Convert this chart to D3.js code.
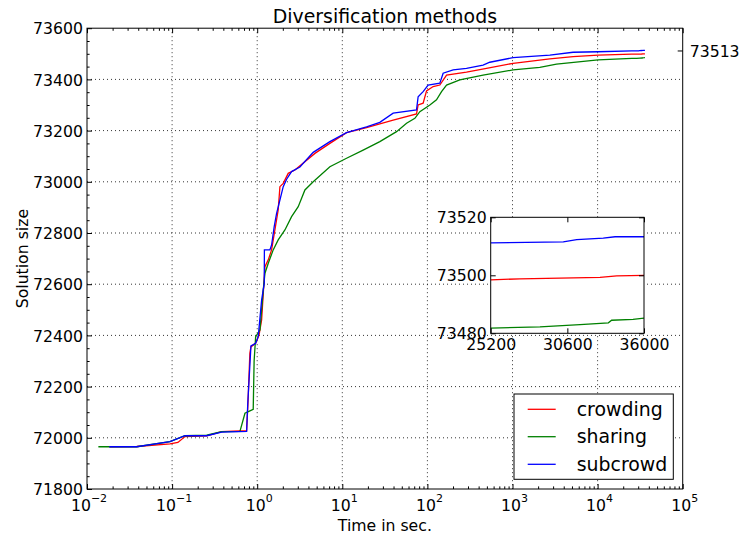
<!DOCTYPE html>
<html><head><meta charset="utf-8">
<script src="https://cdn.jsdelivr.net/npm/d3@7"></script>
<style>body{margin:0;background:#fff}svg{display:block}text{font-family:"DejaVu Sans",sans-serif;fill:#000}</style>
</head><body><svg id="c" width="741" height="541"></svg>
<script>
const title = "Diversification methods";
const xLabel = "Time in sec.";
const yLabel = "Solution size";
const seriesNames = ["crowding", "sharing", "subcrowd"];
const seriesColors = ["#ff0000", "#008000", "#0000ff"];
const xDecades = [-2, -1, 0, 1, 2, 3, 4, 5];
const yTicks = [71800, 72000, 72200, 72400, 72600, 72800, 73000, 73200, 73400, 73600];
const rightTick = [73513];
const insetXTicks = [25200, 30600, 36000];
const insetYTicks = [73480, 73500, 73520];

const crowdingT = [0.0183,0.0384,0.0944,0.117,0.1417,0.255,0.382,0.62,0.751,0.78,0.82,0.844,0.959,1.05,1.127,1.233,1.349,1.476,1.614,1.765,1.849,2.022,2.314,2.773,4.765,7.145,11.22,19.27,39.6,74.5,77.8,89.1,97.7,116.8,140,167.9,288,495,1016,2744,5152,10140,25200,27260,32900,34080,36000];
const crowdingV = [71965,71966,71976,71982,72005,72008,72024,72027,72027,72140,72330,72355,72370,72400,72460,72668,72695,72734,72812,72890,72981,72994,73033,73046,73111,73150,73192,73212,73241,73265,73300,73307,73355,73372,73378,73417,73428,73443,73463,73480,73489,73495,73498.4,73498.8,73499.3,73499.8,73500];

const sharingT = [0.0136,0.0384,0.0944,0.1417,0.255,0.382,0.627,0.718,0.82,0.898,0.92,0.959,1.077,1.178,1.233,1.349,1.542,1.765,2.117,2.535,3.034,3.637,4.552,7.145,11.22,17.58,27.6,43.4,56.9,71.2,81.5,106.9,127.9,146.6,167.9,240.3,451,1016,2093,3289,10140,25200,28670,31490,33490,33720,35230,36000];
const sharingV = [71965,71965,71985,72008,72010,72024,72025,72096,72105,72111,72300,72395,72421,72577,72643,72682,72734,72773,72812,72864,72903,72968,73000,73059,73092,73124,73157,73196,73229,73248,73274,73300,73320,73352,73378,73398,73417,73437,73447,73460,73476,73481.8,73482.2,73483.0,73483.6,73484.5,73484.8,73485.2];

const subcrowdT = [0.0183,0.0384,0.0944,0.1417,0.255,0.382,0.751,0.775,0.844,0.959,1.028,1.127,1.21,1.215,1.41,1.476,1.584,1.69,1.849,2.022,2.217,2.535,3.176,4.55,7.145,11.22,19.27,27.6,39.6,74.5,77.8,89.1,102,140,153.1,200.7,288,451,541,1016,2744,5152,10140,25200,30315,31260,33130,33960,36000];
const subcrowdV = [71965,71965,71985,72008,72008,72022,72025,72135,72359,72369,72395,72538,72603,72734,72734,72753,72825,72877,72929,72981,73010,73040,73058,73115,73157,73192,73215,73232,73268,73281,73332,73352,73378,73385,73424,73437,73443,73456,73467,73485,73495,73506,73508,73511.2,73511.5,73512.3,73512.8,73513.3,73513.3];

const allT = [crowdingT, sharingT, subcrowdT];
const allV = [crowdingV, sharingV, subcrowdV];
const series = seriesNames.map((n,i)=>({name:n,color:seriesColors[i],pts:allT[i].map((t,j)=>[t,allV[i][j]])}));

const svg = d3.select("#c");
const L=87, R=682.7, T=28.2, B=489;
const x = d3.scaleLog().domain([1e-2,1e5]).range([L,R]);
const y = d3.scaleLinear().domain([71800,73600]).range([B,T]);
const FS = 15.7, FL = 18.9, LW = 1.3;

// grid
const g = svg.append("g");
g.selectAll(".gx").data(xDecades.slice(1,-1)).enter().append("line")
  .attr("x1",d=>x(Math.pow(10,d))).attr("x2",d=>x(Math.pow(10,d))).attr("y1",T).attr("y2",B)
  .attr("stroke","#000").attr("stroke-width",0.8).attr("stroke-dasharray","1,3");
g.selectAll(".gy").data(yTicks.slice(1,-1)).enter().append("line")
  .attr("x1",L).attr("x2",R).attr("y1",d=>y(d)).attr("y2",d=>y(d))
  .attr("stroke","#000").attr("stroke-width",0.8).attr("stroke-dasharray","1,3");

// lines
svg.append("clipPath").attr("id","clipM").append("rect").attr("x",L).attr("y",T).attr("width",R-L).attr("height",B-T);
const line = d3.line().x(d=>x(d[0])).y(d=>y(d[1]));
svg.append("g").attr("clip-path","url(#clipM)").selectAll("path").data(series).enter().append("path")
  .attr("d",d=>line(d.pts)).attr("fill","none").attr("stroke",d=>d.color).attr("stroke-width",LW);

// frame
svg.append("rect").attr("x",L).attr("y",T).attr("width",R-L).attr("height",B-T).attr("fill","none").attr("stroke","#000").attr("stroke-width",1);

// minor x ticks
const minors=[];
for(let e=-2;e<5;e++) for(let k=2;k<10;k++) minors.push(k*Math.pow(10,e));
const majorsX = xDecades.map(d=>Math.pow(10,d));
svg.append("g").attr("transform",`translate(0,${B})`).call(d3.axisBottom(x).tickValues(minors).tickSize(-2.6).tickFormat("")).call(s=>s.select(".domain").remove());
svg.append("g").attr("transform",`translate(0,${T})`).call(d3.axisTop(x).tickValues(minors).tickSize(-2.6).tickFormat("")).call(s=>s.select(".domain").remove());
svg.append("g").attr("transform",`translate(0,${B})`).call(d3.axisBottom(x).tickValues(majorsX).tickSize(-5).tickFormat("")).call(s=>s.select(".domain").remove());
svg.append("g").attr("transform",`translate(0,${T})`).call(d3.axisTop(x).tickValues(majorsX).tickSize(-5).tickFormat("")).call(s=>s.select(".domain").remove());
// y ticks
const yMinors = d3.range(71850,73600,50).filter(v=>v%200!==0);
svg.append("g").attr("transform",`translate(${L},0)`).call(d3.axisLeft(y).tickValues(yMinors).tickSize(-2.6).tickFormat("")).call(s=>s.select(".domain").remove());
const yAx = svg.append("g").attr("transform",`translate(${L},0)`).call(d3.axisLeft(y).tickValues(yTicks).tickSize(-5).tickPadding(4).tickFormat(d3.format("d")));
yAx.select(".domain").remove();
yAx.selectAll("text").style("font-size",FS+"px").attr("dy","0.36em").style("font-family","DejaVu Sans");
const rAx = svg.append("g").attr("transform",`translate(${R},0)`).call(d3.axisRight(y).tickValues(rightTick).tickSize(-5).tickPadding(7).tickFormat(d3.format("d")));
rAx.select(".domain").remove();
rAx.selectAll("text").style("font-size",FS+"px").attr("dy","0.36em").style("font-family","DejaVu Sans");
svg.selectAll(".tick line").attr("stroke","#000");

// x tick labels with superscripts
const xl = svg.append("g").selectAll("text").data(xDecades).enter().append("text")
  .attr("x",d=>x(Math.pow(10,d))+2).attr("y",511).attr("text-anchor","middle").style("font-size",FS+"px");
xl.append("tspan").text("10");
xl.append("tspan").attr("dy",-9).style("font-size","11px").text(d=>d<0?"\u2212"+(-d):String(d));

// titles
svg.append("text").attr("x",(L+R)/2).attr("y",22.5).attr("text-anchor","middle").style("font-size",FL+"px").text(title);
svg.append("text").attr("x",(L+R)/2).attr("y",531).attr("text-anchor","middle").style("font-size",FS+"px").text(xLabel);
svg.append("text").attr("transform",`translate(28,${(T+B)/2}) rotate(-90)`).attr("text-anchor","middle").style("font-size",FS+"px").text(yLabel);

// inset
const iL=490.7, iR=644, iT=217.3, iB=333.3;
const xi = d3.scaleLinear().domain([25200,36000]).range([iL,iR]);
const yi = d3.scaleLinear().domain([73480,73520]).range([iB,iT]);
svg.append("rect").attr("x",iL).attr("y",iT).attr("width",iR-iL).attr("height",iB-iT).attr("fill","#fff");
svg.append("clipPath").attr("id","clipI").append("rect").attr("x",iL).attr("y",iT).attr("width",iR-iL).attr("height",iB-iT);
const lineI = d3.line().x(d=>xi(d[0])).y(d=>yi(d[1]));
svg.append("g").attr("clip-path","url(#clipI)").selectAll("path").data(series).enter().append("path")
  .attr("d",d=>lineI(d.pts.filter(p=>p[0]>=25200))).attr("fill","none").attr("stroke",d=>d.color).attr("stroke-width",LW);
svg.append("rect").attr("x",iL).attr("y",iT).attr("width",iR-iL).attr("height",iB-iT).attr("fill","none").attr("stroke","#000").attr("stroke-width",1);
const ib = svg.append("g").attr("transform",`translate(0,${iB})`).call(d3.axisBottom(xi).tickValues(insetXTicks).tickSize(-5).tickPadding(6).tickFormat(d3.format("d")));
ib.select(".domain").remove();
ib.selectAll("text").style("font-size",FS+"px").style("font-family","DejaVu Sans").attr("dy","0.71em");
svg.append("g").attr("transform",`translate(0,${iT})`).call(d3.axisTop(xi).tickValues(insetXTicks).tickSize(-5).tickFormat("")).select(".domain").remove();
const il = svg.append("g").attr("transform",`translate(${iL},0)`).call(d3.axisLeft(yi).tickValues(insetYTicks).tickSize(-5).tickPadding(4).tickFormat(d3.format("d")));
il.select(".domain").remove();
il.selectAll("text").style("font-size",FS+"px").style("font-family","DejaVu Sans").attr("dy","0.36em");
svg.append("g").attr("transform",`translate(${iR},0)`).call(d3.axisRight(yi).tickValues(insetYTicks).tickSize(-5).tickFormat("")).select(".domain").remove();
svg.selectAll(".tick line").attr("stroke","#000");

// legend
const lg = svg.append("g");
lg.append("rect").attr("x",514).attr("y",394).attr("width",159.3).attr("height",85.3).attr("fill","#fff").attr("stroke","#000").attr("stroke-width",1);
const rowsY = [409.3,436.7,464.3];
series.forEach((s,i)=>{
  lg.append("line").attr("x1",527.7).attr("x2",555.7).attr("y1",rowsY[i]).attr("y2",rowsY[i]).attr("stroke",s.color).attr("stroke-width",LW);
  lg.append("text").attr("x",576.7).attr("y",rowsY[i]+6.7).style("font-size",FL+"px").text(s.name);
});
</script></body></html>
